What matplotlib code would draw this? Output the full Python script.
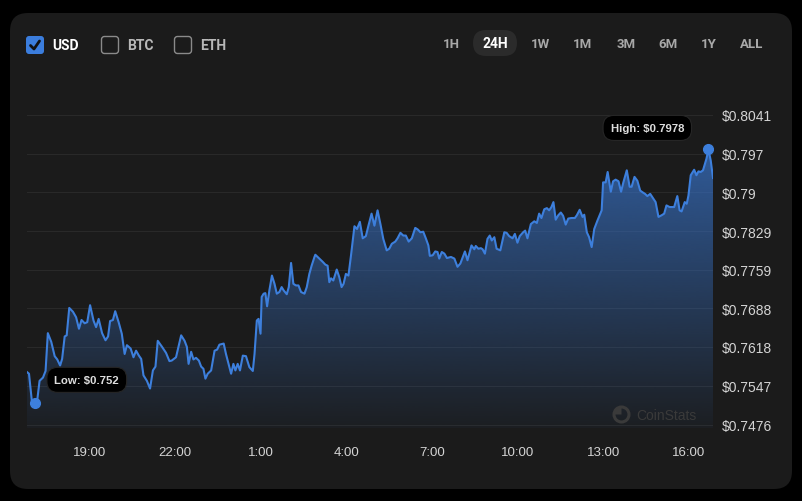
import matplotlib.pyplot as plt
import numpy as np
from matplotlib.patches import FancyBboxPatch, Circle, Wedge
from matplotlib.colors import to_rgb

# price over the last 24h, time in hours (19 = 19:00 yesterday, 25 = 1:00 today)
hours = [16.81, 16.88, 16.98, 17.08, 17.16, 17.25, 17.37, 17.46, 17.54, 17.66,
         17.78, 17.87, 17.97, 18.04, 18.13, 18.20, 18.29, 18.42, 18.53, 18.63,
         18.72, 18.83, 18.92, 19.02, 19.14, 19.23, 19.32, 19.44, 19.56, 19.65,
         19.72, 19.82, 19.90, 20.02, 20.13, 20.23, 20.31, 20.44, 20.54, 20.63,
         20.73, 20.81, 20.89, 21.01, 21.12, 21.22, 21.31, 21.39, 21.54, 21.68,
         21.80, 21.88, 22.03, 22.21, 22.33, 22.41, 22.47, 22.56, 22.64, 22.73,
         22.83, 22.91, 22.99, 23.06, 23.14, 23.26, 23.38, 23.47, 23.55, 23.70,
         23.78, 23.90, 23.96, 24.04, 24.11, 24.19, 24.27, 24.37, 24.48, 24.60,
         24.72, 24.78, 24.86, 24.92, 24.99, 25.03, 25.10, 25.16, 25.22, 25.30,
         25.39, 25.48, 25.56, 25.65, 25.73, 25.80, 25.91, 25.98, 26.06, 26.14,
         26.23, 26.32, 26.41, 26.53, 26.61, 26.70, 26.78, 26.88, 26.91, 27.03,
         27.17, 27.26, 27.34, 27.40, 27.46, 27.54, 27.66, 27.75, 27.83, 27.90,
         27.98, 28.07, 28.16, 28.28, 28.37, 28.47, 28.57, 28.68, 28.77, 28.88,
         28.98, 29.09, 29.19, 29.29, 29.41, 29.50, 29.59, 29.71, 29.79, 29.89,
         29.99, 30.08, 30.18, 30.29, 30.41, 30.50, 30.59, 30.69, 30.78, 30.87,
         30.92, 31.02, 31.11, 31.19, 31.25, 31.34, 31.43, 31.52, 31.66, 31.78,
         31.89, 31.99, 32.15, 32.24, 32.38, 32.48, 32.53, 32.62, 32.71, 32.77,
         32.85, 32.94, 33.02, 33.09, 33.18, 33.26, 33.39, 33.53, 33.61, 33.70,
         33.82, 33.90, 33.99, 34.07, 34.19, 34.26, 34.34, 34.46, 34.58, 34.67,
         34.75, 34.83, 34.93, 35.02, 35.10, 35.18, 35.25, 35.33, 35.42, 35.51,
         35.59, 35.68, 35.77, 35.88, 36.00, 36.07, 36.17, 36.27, 36.33, 36.42,
         36.50, 36.59, 36.68, 36.79, 36.94, 36.99, 37.08, 37.15, 37.26, 37.34,
         37.43, 37.53, 37.62, 37.70, 37.82, 37.92, 37.99, 38.09, 38.19, 38.29,
         38.37, 38.46, 38.54, 38.64, 38.74, 38.83, 38.93, 39.04, 39.13, 39.21,
         39.32, 39.48, 39.59, 39.67, 39.74, 39.85, 39.92, 39.98, 40.06, 40.18,
         40.26, 40.33, 40.41, 40.49, 40.61, 40.68, 40.76, 40.84]
price = [0.7572, 0.7569, 0.7519, 0.7516, 0.7517, 0.7556, 0.7562, 0.7574, 0.7643, 0.7627,
         0.7601, 0.7595, 0.7584, 0.7596, 0.7637, 0.7639, 0.7689, 0.7682, 0.7672, 0.7651,
         0.7667, 0.7661, 0.7663, 0.7694, 0.7666, 0.7654, 0.7669, 0.7643, 0.7630, 0.7637,
         0.7665, 0.7667, 0.7683, 0.7663, 0.7642, 0.7605, 0.7621, 0.7615, 0.7599, 0.7611,
         0.7602, 0.7596, 0.7566, 0.7556, 0.7542, 0.7575, 0.7582, 0.7629, 0.7618, 0.7607,
         0.7592, 0.7593, 0.7599, 0.7639, 0.7629, 0.7618, 0.7587, 0.7609, 0.7595, 0.7598,
         0.7593, 0.7582, 0.7578, 0.7560, 0.7569, 0.7575, 0.7611, 0.7613, 0.7622, 0.7624,
         0.7605, 0.7581, 0.7569, 0.7587, 0.7575, 0.7587, 0.7575, 0.7602, 0.7601, 0.7581,
         0.7574, 0.7605, 0.7666, 0.7669, 0.7642, 0.7709, 0.7715, 0.7716, 0.7692, 0.7721,
         0.7748, 0.7733, 0.7715, 0.7718, 0.7727, 0.7721, 0.7714, 0.7727, 0.7771, 0.7733,
         0.7730, 0.7730, 0.7718, 0.7715, 0.7727, 0.7751, 0.7766, 0.7782, 0.7786, 0.7780,
         0.7773, 0.7768, 0.7766, 0.7736, 0.7743, 0.7739, 0.7759, 0.7745, 0.7727, 0.7733,
         0.7751, 0.7748, 0.7785, 0.7838, 0.7833, 0.7846, 0.7816, 0.7820, 0.7839, 0.7861,
         0.7839, 0.7867, 0.7842, 0.7815, 0.7794, 0.7797, 0.7806, 0.7810, 0.7816, 0.7826,
         0.7821, 0.7821, 0.7810, 0.7816, 0.7835, 0.7832, 0.7827, 0.7828, 0.7816, 0.7803,
         0.7784, 0.7785, 0.7792, 0.7791, 0.7779, 0.7791, 0.7788, 0.7780, 0.7782, 0.7779,
         0.7764, 0.7770, 0.7792, 0.7776, 0.7803, 0.7796, 0.7802, 0.7797, 0.7798, 0.7796,
         0.7788, 0.7815, 0.7821, 0.7812, 0.7818, 0.7797, 0.7794, 0.7827, 0.7826, 0.7820,
         0.7816, 0.7824, 0.7808, 0.7820, 0.7827, 0.7830, 0.7816, 0.7842, 0.7847, 0.7844,
         0.7861, 0.7853, 0.7869, 0.7871, 0.7867, 0.7873, 0.7882, 0.7850, 0.7858, 0.7863,
         0.7857, 0.7841, 0.7852, 0.7853, 0.7853, 0.7858, 0.7868, 0.7855, 0.7859, 0.7827,
         0.7818, 0.7800, 0.7833, 0.7848, 0.7867, 0.7918, 0.7918, 0.7937, 0.7901, 0.7920,
         0.7923, 0.7920, 0.7901, 0.7918, 0.7940, 0.7910, 0.7910, 0.7928, 0.7921, 0.7903,
         0.7900, 0.7897, 0.7893, 0.7897, 0.7889, 0.7882, 0.7855, 0.7858, 0.7861, 0.7876,
         0.7873, 0.7873, 0.7893, 0.7867, 0.7865, 0.7882, 0.7879, 0.7894, 0.7931, 0.7941,
         0.7931, 0.7938, 0.7937, 0.7940, 0.7961, 0.7978, 0.7958, 0.7926]

y_ticks = [0.7476, 0.7547, 0.7618, 0.7688, 0.7759, 0.7829, 0.7900, 0.7970, 0.8041]
y_labels = ['$0.7476', '$0.7547', '$0.7618', '$0.7688', '$0.7759',
            '$0.7829', '$0.79', '$0.797', '$0.8041']
x_ticks = [19, 22, 25, 28, 31, 34, 37, 40]
x_labels = ['19:00', '22:00', '1:00', '4:00', '7:00', '10:00', '13:00', '16:00']
currencies = ['USD', 'BTC', 'ETH']
ranges = ['1H', '24H', '1W', '1M', '3M', '6M', '1Y', 'ALL']

BG = '#1b1b1b'
LINE = '#3d7fdc'
TXT = '#d4d4d4'

fig = plt.figure(figsize=(8.02, 5.02), dpi=100, facecolor='black')

# pixel-space background layer
bg = fig.add_axes([0, 0, 1, 1], zorder=0)
bg.set_xlim(0, 802)
bg.set_ylim(502, 0)
bg.axis('off')
bg.add_patch(FancyBboxPatch((10, 14), 782, 476, boxstyle='round,pad=0,rounding_size=18',
                            fc=BG, ec='none'))

# currency checkboxes
box_x = [26, 101, 174]
for i, (name, bx) in enumerate(zip(currencies, box_x)):
    if i == 0:
        bg.add_patch(FancyBboxPatch((bx, 37), 18, 18, boxstyle='round,pad=0,rounding_size=3',
                                    fc='#3b7ddd', ec='none'))
        bg.plot([bx + 4.5, bx + 8, bx + 13.5], [46.5, 50, 42], color='#111111', lw=2,
                solid_capstyle='round')
        bg.text(bx + 26, 46, name, color='white', fontsize=10, fontweight='bold',
                family='Roboto', va='center', ha='left')
    else:
        bg.add_patch(FancyBboxPatch((bx + 0.5, 37.5), 17, 17, boxstyle='round,pad=0,rounding_size=3',
                                    fc='none', ec='#8a8a8a', lw=1))
        bg.text(bx + 26, 46, name, color='#b8b8b8', fontsize=10, fontweight='bold',
                family='Roboto', va='center', ha='left')

# time range buttons
range_x = [451, 495, 540, 583, 626, 668, 709, 752]
for name, cx in zip(ranges, range_x):
    if name == '24H':
        bg.add_patch(FancyBboxPatch((473, 31), 44, 26, boxstyle='round,pad=0,rounding_size=13',
                                    fc='#2b2b2b', ec='none'))
        bg.text(cx, 44.5, name, color='white', fontsize=10, fontweight='bold',
                family='Roboto', ha='center', va='center')
    else:
        bg.text(cx, 44.5, name, color='#a8a8a8', fontsize=9.5, fontweight='bold',
                family='Roboto', ha='center', va='center')

# chart
ax = fig.add_axes([27 / 802, 73 / 502, 686 / 802, 318 / 502], zorder=1)
ax.set_facecolor('none')
y0, y1 = 0.7470, 0.8050
x0, x1 = hours[0], hours[-1]

poly = ax.fill_between(hours, price, y0, color='none', lw=0)
grad = np.zeros((256, 1, 4))
grad[:, 0, :3] = to_rgb('#3a78d2')
grad[:, 0, 3] = np.linspace(0.04, 0.78, 256)
im = ax.imshow(grad, extent=[x0, x1, y0, y1], origin='lower', aspect='auto',
               interpolation='bicubic', zorder=2)
im.set_clip_path(poly.get_paths()[0], transform=ax.transData)

ax.plot(hours, price, color=LINE, lw=1.5, zorder=3, solid_joinstyle='round')

i_hi = int(np.argmax(price))
i_lo = int(np.argmin(price))
ax.plot(hours[i_hi], price[i_hi], 'o', ms=7, color=LINE, zorder=4)
ax.plot(hours[i_lo], price[i_lo], 'o', ms=7, color=LINE, zorder=4)

pill = dict(boxstyle='round,pad=0.66,rounding_size=0.95', fc='black', ec='#262626', lw=0.8)
ax.annotate(f'High: ${round(price[i_hi], 4):g}', xy=(hours[i_hi], price[i_hi]),
            xytext=(-44, 15.5), textcoords='offset points', ha='center', va='center',
            fontsize=8.2, fontweight='bold', color='#dddddd', family='Liberation Sans',
            bbox=pill, zorder=5)
ax.annotate(f'Low: ${round(price[i_lo], 3):g}', xy=(hours[i_lo], price[i_lo]),
            xytext=(37.5, 16.5), textcoords='offset points', ha='center', va='center',
            fontsize=8.2, fontweight='bold', color='#dddddd', family='Liberation Sans',
            bbox=pill, zorder=5)

ax.set_xlim(x0, x1)
ax.set_ylim(y0, y1)
ax.set_yticks(y_ticks)
ax.set_yticklabels(y_labels)
ax.set_xticks(x_ticks)
ax.set_xticklabels(x_labels)
ax.yaxis.tick_right()
ax.tick_params(axis='y', length=0, pad=6, labelsize=10, labelcolor=TXT)
ax.tick_params(axis='x', length=0, pad=13, labelsize=9.5, labelcolor=TXT)
for lab in ax.get_xticklabels() + ax.get_yticklabels():
    lab.set_family('Liberation Sans')
ax.grid(axis='y', color='#292929', lw=0.8)
ax.grid(axis='x', visible=False)
for s in ax.spines.values():
    s.set_visible(False)

# watermark on top
top = fig.add_axes([0, 0, 1, 1], zorder=2)
top.set_xlim(0, 802)
top.set_ylim(502, 0)
top.axis('off')
top.patch.set_alpha(0)
top.add_patch(Circle((621.5, 415.5), 7.5, fc='none', ec='#3a3a3a', lw=2.2))
top.add_patch(Wedge((621.5, 415.5), 7.5, 180, 270, fc='#3a3a3a', ec='none'))
top.text(636, 416, 'CoinStats', color='#3a3a3a', fontsize=10, family='Liberation Sans',
         ha='left', va='center')

fig.savefig('out.png', dpi=100, facecolor='black')
